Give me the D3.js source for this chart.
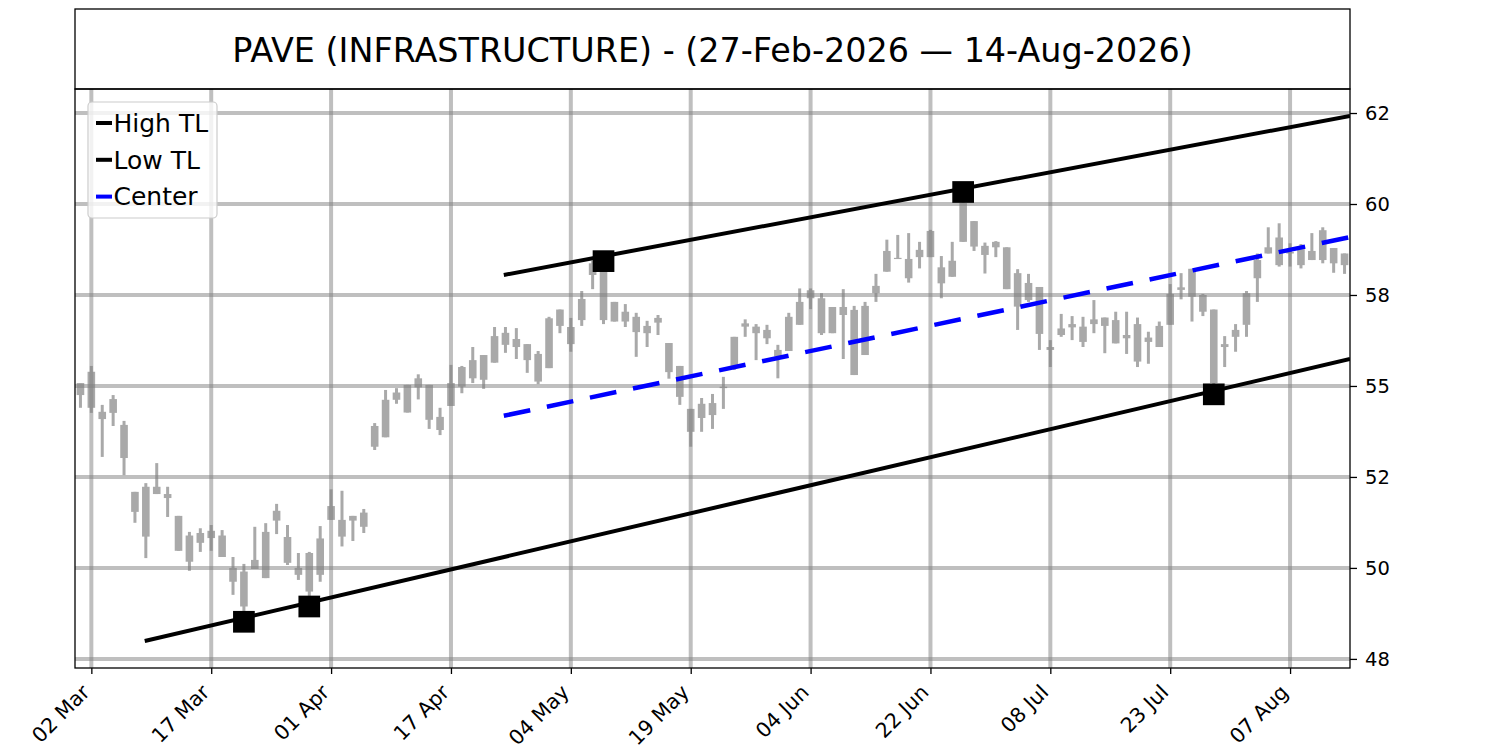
<!DOCTYPE html>
<html>
<head>
<meta charset="utf-8">
<script src="https://cdn.jsdelivr.net/npm/d3@7"></script>
<style>
  html, body { margin: 0; padding: 0; background: #ffffff; }
  svg { display: block; font-family: "DejaVu Sans", sans-serif; }
</style>
</head>
<body>
<svg id="chart" width="1500" height="750"></svg>
<script>
// ---------------- DATA ----------------
const titleText = "PAVE (INFRASTRUCTURE) - (27-Feb-2026 \u2014 14-Aug-2026)";

const dates = [
  "2026-02-27",
  "2026-03-02","2026-03-03","2026-03-04","2026-03-05","2026-03-06",
  "2026-03-09","2026-03-10","2026-03-11","2026-03-12","2026-03-13",
  "2026-03-16","2026-03-17","2026-03-18","2026-03-19","2026-03-20",
  "2026-03-23","2026-03-24","2026-03-25","2026-03-26","2026-03-27",
  "2026-03-30","2026-03-31","2026-04-01","2026-04-02",
  "2026-04-06","2026-04-07","2026-04-08","2026-04-09","2026-04-10",
  "2026-04-13","2026-04-14","2026-04-15","2026-04-16","2026-04-17",
  "2026-04-20","2026-04-21","2026-04-22","2026-04-23","2026-04-24",
  "2026-04-27","2026-04-28","2026-04-29","2026-04-30","2026-05-01",
  "2026-05-04","2026-05-05","2026-05-06","2026-05-07","2026-05-08",
  "2026-05-11","2026-05-12","2026-05-13","2026-05-14","2026-05-15",
  "2026-05-18","2026-05-19","2026-05-20","2026-05-21","2026-05-22",
  "2026-05-26","2026-05-27","2026-05-28","2026-05-29",
  "2026-06-01","2026-06-02","2026-06-03","2026-06-04","2026-06-05",
  "2026-06-08","2026-06-09","2026-06-10","2026-06-11","2026-06-12",
  "2026-06-15","2026-06-16","2026-06-17","2026-06-18",
  "2026-06-22","2026-06-23","2026-06-24","2026-06-25","2026-06-26",
  "2026-06-29","2026-06-30","2026-07-01","2026-07-02",
  "2026-07-06","2026-07-07","2026-07-08","2026-07-09","2026-07-10",
  "2026-07-13","2026-07-14","2026-07-15","2026-07-16","2026-07-17",
  "2026-07-20","2026-07-21","2026-07-22","2026-07-23","2026-07-24",
  "2026-07-27","2026-07-28","2026-07-29","2026-07-30","2026-07-31",
  "2026-08-03","2026-08-04","2026-08-05","2026-08-06","2026-08-07",
  "2026-08-10","2026-08-11","2026-08-12","2026-08-13","2026-08-14"
];

const openP = [
  54.75,55.39,54.29,54.26,53.93,52.09,52.23,52.03,52.03,51.43,
  50.17,50.69,50.82,50.89,50.00,49.90,49.97,49.72,51.30,50.85,
  50.00,50.41,49.81,51.32,51.32,51.30,51.13,53.33,53.59,54.62,
  54.27,54.96,55.03,54.15,54.45,54.98,55.21,55.85,55.64,56.13,
  56.29,56.15,55.88,55.49,56.65,56.62,56.81,58.05,58.19,57.31,
  57.04,56.90,56.65,56.87,56.18,55.55,54.37,54.12,54.20,54.94,
  55.53,56.63,56.45,56.54,55.99,55.96,56.68,57.41,57.41,56.45,
  57.17,57.09,55.85,57.55,58.14,58.49,58.49,58.54,58.54,58.26,
  58.00,58.96,59.53,58.85,58.96,58.81,58.10,57.36,57.72,56.07,
  56.40,56.61,56.63,56.70,56.88,56.17,56.40,56.70,56.21,56.07,
  56.68,57.64,58.22,57.04,57.10,56.07,56.35,56.68,57.96,58.64,
  59.08,58.68,58.76,58.46,58.46,58.79,58.64
];
const closeP = [
  55.08,54.40,54.09,54.64,53.02,51.54,50.86,52.23,51.92,50.47,
  50.89,50.96,51.02,50.30,49.62,48.94,50.22,50.99,51.57,50.14,
  49.81,49.35,50.81,51.70,50.86,51.43,51.52,53.90,54.62,54.82,
  55.03,55.21,54.07,53.79,55.08,55.52,55.71,55.17,56.37,56.46,
  56.07,55.71,55.12,56.86,57.10,56.15,57.39,58.37,56.81,56.77,
  56.77,56.48,56.45,56.74,55.38,54.70,53.74,54.51,54.53,54.98,
  56.35,56.72,56.63,56.31,55.81,56.90,57.31,57.63,56.45,57.17,
  56.95,55.30,57.20,57.75,58.71,58.52,57.96,58.74,59.26,57.82,
  58.44,60.03,58.83,58.60,58.81,57.66,57.18,57.83,56.43,55.99,
  56.58,56.70,56.21,56.83,56.65,56.81,56.31,55.67,56.33,56.65,
  57.53,57.71,57.45,57.50,55.08,56.15,56.54,57.55,58.46,58.81,
  58.32,58.64,58.32,58.71,59.28,58.37,58.32
];
const highP = [
  55.08,55.55,54.48,54.75,54.04,52.09,52.33,52.88,52.23,51.43,
  50.99,51.09,51.18,51.04,50.30,50.11,51.13,51.23,51.76,51.18,
  50.41,50.44,51.15,52.16,52.12,51.43,51.62,53.98,54.89,54.94,
  55.03,55.32,55.03,54.40,55.58,55.55,56.07,55.85,56.62,56.62,
  56.59,56.15,55.96,56.90,57.10,56.87,57.61,58.44,58.43,57.31,
  57.25,57.01,56.79,56.95,56.18,55.55,54.37,54.67,54.78,55.25,
  56.35,56.83,56.70,56.68,56.13,57.01,57.68,57.68,57.55,57.17,
  57.66,57.20,57.31,58.08,59.02,59.15,59.20,58.96,59.29,58.57,
  58.96,60.33,59.53,58.94,58.98,58.81,58.21,58.08,57.72,56.26,
  56.98,56.92,56.90,57.36,56.88,57.04,57.04,56.88,56.49,56.77,
  57.80,58.10,58.22,57.53,57.10,56.37,56.70,57.61,58.64,59.36,
  59.47,58.92,58.90,59.20,59.36,58.79,58.64
];
const lowP = [
  54.40,54.26,53.05,53.90,52.55,51.24,50.27,52.03,51.40,50.47,
  49.92,50.44,50.47,50.30,49.26,48.52,49.97,49.72,50.93,50.08,
  49.67,48.94,49.62,51.32,50.59,50.74,50.96,53.24,53.59,54.51,
  54.27,54.63,53.82,53.65,54.45,54.80,55.08,54.92,55.64,55.91,
  55.74,55.36,55.05,55.49,56.45,55.94,56.65,57.66,56.70,56.77,
  56.62,55.80,56.07,56.40,55.20,54.48,53.33,53.74,53.82,54.37,
  55.44,56.35,55.71,56.15,55.21,55.96,56.68,57.11,56.40,56.45,
  55.74,55.30,55.85,57.31,58.14,58.49,57.84,58.23,58.54,57.41,
  58.00,58.96,58.71,58.09,58.54,57.66,56.54,57.31,55.99,55.52,
  56.35,56.26,56.07,56.45,55.90,56.17,55.88,55.52,55.61,56.07,
  56.68,57.38,56.77,56.92,54.77,55.52,55.94,56.35,57.31,58.64,
  58.28,58.28,58.23,58.46,58.37,58.11,58.08
];

// tick labels (every 11 trading days), y ticks
const xTickIdx = [1, 12, 23, 34, 45, 56, 67, 78, 89, 100, 111];
const yTicks = [47.5, 50, 52.5, 55, 57.5, 60, 62.5];
const yTickLabels = ["48", "50", "52", "55", "58", "60", "62"];
const yDomain = [47.25, 63.16];

// trend lines: [start index, end index], [start value, end value]
const highTLIdx = [38.85, 116.5];
const highTLVal = [58.05, 62.42];
const lowTLIdx = [5.9, 116.5];
const lowTLVal = [47.99, 55.74];
const centerIdx = [38.85, 116.5];
const centerVal = [54.18, 59.09];

// pivot markers
const pivotIdx = [15, 21, 48, 81, 104];
const pivotVal = [48.52, 48.94, 58.43, 60.33, 54.77];

const legendLabels = ["High TL", "Low TL", "Center"];
const legendColors = ["#000000", "#000000", "#0000ff"];

// ---------------- LAYOUT ----------------
const W = 1500, H = 750;
const plot = { left: 75, right: 1350, top: 89, bottom: 668 };
const titleBox = { top: 9, bottom: 89 };

const svg = d3.select("#chart");
svg.append("rect").attr("width", W).attr("height", H).attr("fill", "#ffffff");

const x = d3.scaleLinear().domain([-0.5, dates.length - 0.5]).range([plot.left, plot.right]);
const y = d3.scaleLinear().domain(yDomain).range([plot.bottom, plot.top]);
const parse = d3.timeParse("%Y-%m-%d");
const fmt = d3.timeFormat("%d %b");

const candles = dates.map((d, i) => ({
  i, date: parse(d), o: openP[i], h: highP[i], l: lowP[i], c: closeP[i]
}));

// clip
svg.append("defs").append("clipPath").attr("id", "clip")
  .append("rect")
  .attr("x", plot.left).attr("y", plot.top)
  .attr("width", plot.right - plot.left).attr("height", plot.bottom - plot.top);

const g = svg.append("g").attr("clip-path", "url(#clip)");

// candles
const candleColor = "#a9a9a9";
const bodyW = 7.6;
g.append("g").selectAll("line").data(candles).join("line")
  .attr("x1", d => x(d.i)).attr("x2", d => x(d.i))
  .attr("y1", d => y(d.h)).attr("y2", d => y(d.l))
  .attr("stroke", candleColor).attr("stroke-width", 3);
g.append("g").selectAll("rect").data(candles).join("rect")
  .attr("x", d => x(d.i) - bodyW / 2)
  .attr("width", bodyW)
  .attr("y", d => y(Math.max(d.o, d.c)))
  .attr("height", d => Math.max(1.2, Math.abs(y(d.o) - y(d.c))))
  .attr("fill", candleColor);

// grid
const grid = g.append("g").attr("stroke", "#808080").attr("stroke-opacity", 0.5).attr("stroke-width", 4);
grid.selectAll(".gx").data(xTickIdx).join("line")
  .attr("x1", d => x(d)).attr("x2", d => x(d))
  .attr("y1", plot.top).attr("y2", plot.bottom);
grid.selectAll(".gy").data(yTicks).join("line")
  .attr("x1", plot.left).attr("x2", plot.right)
  .attr("y1", d => y(d)).attr("y2", d => y(d));

// trend lines
const line = d3.line().x(d => x(d[0])).y(d => y(d[1]));
g.append("path").datum(highTLIdx.map((v, k) => [v, highTLVal[k]]))
  .attr("d", line).attr("fill", "none").attr("stroke", "#000").attr("stroke-width", 4);
g.append("path").datum(lowTLIdx.map((v, k) => [v, lowTLVal[k]]))
  .attr("d", line).attr("fill", "none").attr("stroke", "#000").attr("stroke-width", 4);
g.append("path").datum(centerIdx.map((v, k) => [v, centerVal[k]]))
  .attr("d", line).attr("fill", "none").attr("stroke", "#0000ff").attr("stroke-width", 4.5)
  .attr("stroke-dasharray", "27,17");

// pivot markers
const ms = 21.7;
g.append("g").selectAll("rect").data(pivotIdx.map((v, k) => [v, pivotVal[k]])).join("rect")
  .attr("x", d => x(d[0]) - ms / 2).attr("y", d => y(d[1]) - ms / 2)
  .attr("width", ms).attr("height", ms).attr("fill", "#000");

// frames
svg.append("rect")
  .attr("x", plot.left).attr("y", plot.top)
  .attr("width", plot.right - plot.left).attr("height", plot.bottom - plot.top)
  .attr("fill", "none").attr("stroke", "#000").attr("stroke-width", 1.3);
svg.append("rect")
  .attr("x", plot.left).attr("y", titleBox.top)
  .attr("width", plot.right - plot.left).attr("height", titleBox.bottom - titleBox.top)
  .attr("fill", "none").attr("stroke", "#000").attr("stroke-width", 1.3);

svg.append("text")
  .attr("x", (plot.left + plot.right) / 2).attr("y", 61.5)
  .attr("text-anchor", "middle")
  .attr("font-size", 33.4).attr("fill", "#000")
  .text(titleText);

// y axis (right)
const yAxis = d3.axisRight(y).tickValues(yTicks)
  .tickFormat((d, k) => yTickLabels[k]).tickSize(7).tickPadding(8);
const ya = svg.append("g").attr("transform", `translate(${plot.right},0)`).call(yAxis);
ya.select(".domain").remove();
ya.selectAll("line").attr("stroke", "#000").attr("stroke-width", 1.3);
ya.selectAll("text").attr("font-size", 19.5).attr("fill", "#000")
  .attr("font-family", "DejaVu Sans, sans-serif");

// x axis (bottom)
const xAxis = d3.axisBottom(x).tickValues(xTickIdx)
  .tickFormat(d => fmt(candles[d].date)).tickSize(6);
const xa = svg.append("g").attr("transform", `translate(0,${plot.bottom})`).call(xAxis);
xa.select(".domain").remove();
xa.selectAll("line").attr("stroke", "#000").attr("stroke-width", 1.3);
xa.selectAll("text")
  .attr("font-size", 20.5).attr("fill", "#000")
  .attr("font-family", "DejaVu Sans, sans-serif")
  .attr("text-anchor", "end")
  .attr("dy", null).attr("y", null)
  .attr("transform", "translate(-1,25.5) rotate(-45)");

// legend
const lg = svg.append("g");
lg.append("rect").attr("x", 88).attr("y", 102).attr("width", 129).attr("height", 116)
  .attr("rx", 4).attr("fill", "#fff").attr("fill-opacity", 0.8)
  .attr("stroke", "#cccccc").attr("stroke-width", 1.2);
legendLabels.forEach((lab, k) => {
  const cy = 123 + k * 36.8;
  lg.append("line").attr("x1", 96).attr("x2", 112).attr("y1", cy).attr("y2", cy)
    .attr("stroke", legendColors[k]).attr("stroke-width", 4);
  lg.append("text").attr("x", 113.5).attr("y", cy + 8.8)
    .attr("font-size", 25).attr("fill", "#000").text(lab);
});
</script>
</body>
</html>
